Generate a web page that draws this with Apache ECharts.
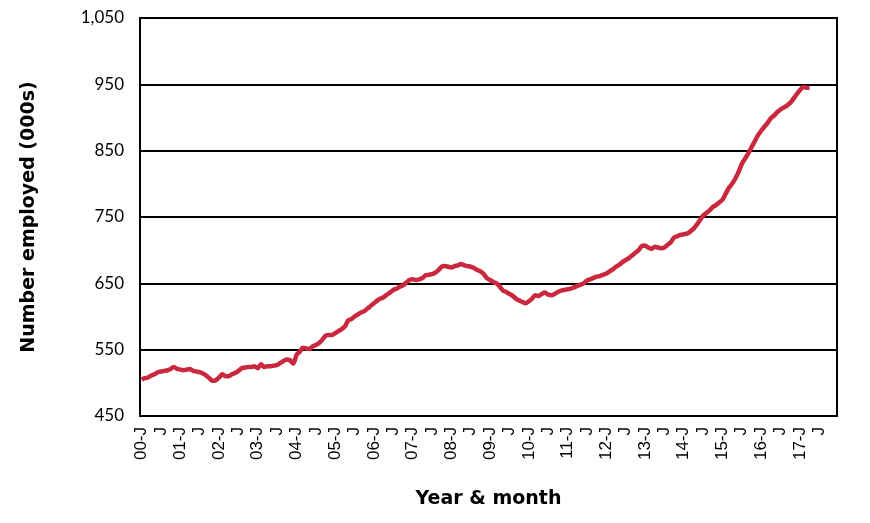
<!DOCTYPE html>
<html>
<head>
<meta charset="utf-8">
<script src="https://cdn.jsdelivr.net/npm/echarts@6/dist/echarts.min.js"></script>
<style>
  html, body { margin: 0; padding: 0; background: #fff; }
  #chart { width: 870px; height: 523px; }
</style>
</head>
<body>
<div id="chart"></div>
<script>
// month letters as they appear on the axis, Jan gets the 2-digit year
const monthLetters = ['J', 'F', 'M', 'A', 'M', 'J', 'J', 'A', 'S', 'O', 'N', 'D']
const years = ['00', '01', '02', '03', '04', '05', '06', '07', '08',
               '09', '10', '11', '12', '13', '14', '15', '16', '17']

// number employed (000s), monthly from Jan 2000 to Apr 2017
const employed = [
  505, 507, 508, 511, 513, 516, 517, 518, 519, 521, 524, 521,   // 2000
  520, 519, 520, 521, 518, 517, 516, 514, 511, 507, 503, 504,   // 2001
  508, 513, 510, 510, 513, 515, 518, 522, 523, 524, 524, 525,   // 2002
  522, 528, 524, 525, 525, 526, 527, 530, 533, 535, 534, 529,   // 2003
  542, 547, 553, 552, 551, 555, 557, 560, 565, 571, 572, 572,   // 2004
  575, 578, 581, 585, 594, 596, 600, 603, 606, 608, 612, 616,   // 2005
  620, 624, 627, 629, 633, 636, 640, 642, 645, 647, 651, 655,   // 2006
  656, 655, 656, 658, 662, 663, 664, 666, 670, 675, 676, 675,   // 2007
  674, 676, 677, 679, 677, 676, 675, 673, 670, 668, 664, 658,   // 2008
  655, 652, 650, 645, 639, 637, 634, 631, 627, 624, 622, 620,   // 2009
  623, 627, 632, 631, 634, 636, 633, 632, 634, 637, 639, 640,   // 2010
  641, 642, 644, 646, 648, 650, 654, 656, 658, 660, 661, 663,   // 2011
  665, 668, 671, 675, 678, 682, 685, 688, 692, 696, 700, 706,   // 2012
  707, 704, 702, 705, 704, 703, 704, 708, 712, 719, 721, 723,   // 2013
  724, 725, 728, 732, 738, 745, 752, 756, 760, 765, 768, 772,   // 2014
  776, 785, 794, 800, 808, 818, 830, 838, 846, 855, 864, 873,   // 2015
  880, 886, 892, 899, 903, 908, 912, 915, 918, 922, 928, 935,   // 2016
  941, 946, 945, 945                                            // 2017
]

const yTicks = [450, 550, 650, 750, 850, 950, 1050]

const categories = []
years.forEach(y => {
  monthLetters.forEach((m, i) => {
    categories.push(i === 0 ? y + '-' + m : m)
  })
})

const titleFont = { fontFamily: 'DejaVu Sans', fontWeight: 'bold', fontSize: 19, color: '#000' }

const chart = echarts.init(document.getElementById('chart'))
chart.setOption({
  animation: false,
  grid: {
    left: 140, right: 33, top: 18, bottom: 107,
    show: true, borderColor: '#000', borderWidth: 2
  },
  xAxis: {
    type: 'category',
    data: categories,
    name: 'Year & month',
    nameLocation: 'middle',
    nameGap: 74,
    nameTextStyle: titleFont,
    axisLine: { lineStyle: { color: '#000', width: 2 } },
    axisTick: { show: false },
    axisLabel: {
      interval: 5,
      rotate: 90,
      margin: 11,
      fontFamily: 'Liberation Sans',
      fontSize: 17,
      color: '#000'
    },
    splitLine: { show: false }
  },
  yAxis: {
    type: 'value',
    min: yTicks[0],
    max: yTicks[yTicks.length - 1],
    interval: 100,
    name: 'Number employed (000s)',
    nameLocation: 'middle',
    nameGap: 101,
    nameTextStyle: titleFont,
    axisLine: { show: true, lineStyle: { color: '#000', width: 2 } },
    axisTick: { show: false },
    axisLabel: {
      margin: 16,
      fontFamily: 'Lato',
      fontSize: 17,
      color: '#000',
      formatter: v => v.toLocaleString('en-US')
    },
    splitLine: { lineStyle: { color: '#000', width: 2 } }
  },
  series: [{
    type: 'line',
    data: employed,
    showSymbol: false,
    smooth: 0.3,
    lineStyle: { color: '#C9283E', width: 4.5 }
  }]
})
</script>
</body>
</html>
